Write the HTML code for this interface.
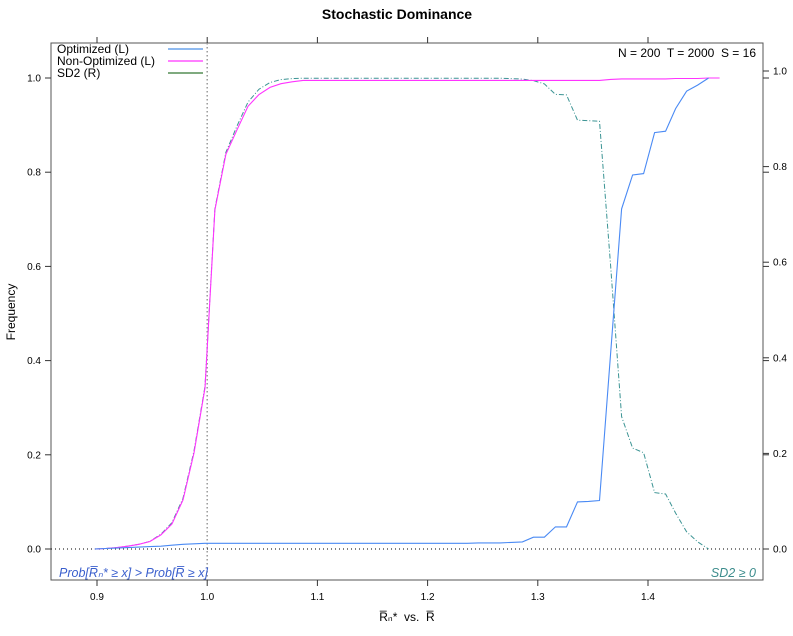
<!DOCTYPE html>
<html><head><meta charset="utf-8"><style>
body{margin:0;background:#fff;}
svg{display:block;font-family:"Liberation Sans",sans-serif;}
text{white-space:pre;}
</style></head><body>
<svg id="c" width="793" height="636"></svg>
<script>
const xs=[0.898,0.908,0.918,0.928,0.938,0.948,0.958,0.968,0.978,0.988,0.998,1.007,1.017,1.027,1.037,1.047,1.057,1.067,1.077,1.087,1.097,1.107,1.117,1.127,1.137,1.147,1.157,1.167,1.177,1.187,1.197,1.207,1.216,1.226,1.236,1.246,1.256,1.266,1.276,1.286,1.296,1.306,1.316,1.326,1.336,1.346,1.356,1.366,1.376,1.386,1.396,1.406,1.416,1.425,1.435,1.445,1.455,1.465];
const optimized=[0,0.001,0.002,0.003,0.004,0.005,0.006,0.008,0.010,0.011,0.012,0.012,0.012,0.012,0.012,0.012,0.012,0.012,0.012,0.012,0.012,0.012,0.012,0.012,0.012,0.012,0.012,0.012,0.012,0.012,0.012,0.012,0.012,0.012,0.012,0.013,0.013,0.013,0.014,0.015,0.025,0.025,0.047,0.047,0.100,0.101,0.103,0.412,0.722,0.794,0.797,0.884,0.887,0.935,0.972,0.985,1.0,null];
const nonOptimized=[0,0.001,0.003,0.006,0.010,0.016,0.030,0.053,0.104,0.204,0.342,0.720,0.838,0.890,0.940,0.965,0.980,0.988,0.992,0.995,0.995,0.995,0.995,0.995,0.995,0.995,0.995,0.995,0.995,0.995,0.995,0.995,0.995,0.995,0.995,0.995,0.995,0.995,0.995,0.995,0.995,0.995,0.995,0.995,0.995,0.995,0.995,0.997,0.998,0.998,0.998,0.998,0.998,0.999,0.999,0.999,1.0,1.0];
const sd2=[0,0.001,0.003,0.006,0.010,0.016,0.031,0.055,0.106,0.205,0.340,0.712,0.830,0.885,0.935,0.962,0.976,0.982,0.984,0.985,0.985,0.985,0.985,0.985,0.985,0.985,0.985,0.985,0.985,0.985,0.985,0.985,0.985,0.985,0.985,0.985,0.985,0.985,0.984,0.983,0.980,0.973,0.951,0.950,0.897,0.896,0.895,0.596,0.277,0.211,0.2015,0.118,0.115,0.075,0.036,0.015,0,null];
const xTicks=[0.9,1.0,1.1,1.2,1.3,1.4];
const yTicks=[0,0.2,0.4,0.6,0.8,1.0];
const NS="http://www.w3.org/2000/svg";
const svg=document.getElementById('c');
const L=51,R=763,T=43,B=580;
const X=v=>97+(v-0.9)*1102;
const Y=v=>549-v*471;
const Y2=v=>549-v*478;
function el(t,a,p){const e=document.createElementNS(NS,t);for(const k in a)e.setAttribute(k,a[k]);(p||svg).appendChild(e);return e;}
function txt(s,a){const e=el('text',a);e.textContent=s;return e;}
let t;
t=txt('Stochastic Dominance',{x:397,y:19,'text-anchor':'middle','font-size':14,'font-weight':'bold'});

t=el('rect',{x:L,y:T,width:R-L,height:B-T,fill:'none',stroke:'#555','stroke-width':1});

xTicks.forEach(v=>{
  t=el('line',{x1:X(v),x2:X(v),y1:B,y2:B+6,stroke:'#333'});
  
  t=el('line',{x1:X(v),x2:X(v),y1:T,y2:T-6,stroke:'#333'});
  
  t=txt(v.toFixed(1),{x:X(v),y:B+20,'text-anchor':'middle','font-size':10});
  
});
yTicks.forEach(v=>{
  t=el('line',{x1:L,x2:L-6,y1:Y(v),y2:Y(v),stroke:'#333'});
  
  t=txt(v.toFixed(1),{x:L-10,y:Y(v)+3.5,'text-anchor':'end','font-size':10});
  
  t=el('line',{x1:R,x2:R+6,y1:Y(v),y2:Y(v),stroke:'#333'});
  
  t=el('line',{x1:R,x2:R+6,y1:Y2(v),y2:Y2(v),stroke:'#333'});
  
  t=txt(v.toFixed(1),{x:R+10,y:Y2(v)+3.5,'font-size':10});
  
});
t=el('line',{x1:X(1.0),x2:X(1.0),y1:T,y2:B,stroke:'#999','stroke-dasharray':'1.5,2.5','stroke-width':1.5});

t=el('line',{x1:L,x2:R,y1:Y(0),y2:Y(0),stroke:'#333','stroke-dasharray':'1,3','stroke-width':1.2});

function path(vals,yf){let d='';let pen=false;vals.forEach((v,i)=>{if(v===null){pen=false;return;}d+=(pen?'L':'M')+X(xs[i]).toFixed(1)+','+yf(v).toFixed(1);pen=true;});return d;}
t=el('path',{d:path(sd2,Y2),fill:'none',stroke:'#3c9494','stroke-width':1,'stroke-dasharray':'5,2,1,2'});

t=el('path',{d:path(nonOptimized,Y),fill:'none',stroke:'#ff33ff','stroke-width':1.1});

t=el('path',{d:path(optimized,Y),fill:'none',stroke:'#4a8af4','stroke-width':1.1});

const leg=[['Optimized (L)','#8fbaf0'],['Non-Optimized (L)','#ff33ff'],['SD2 (R)','#7faa7f']];
leg.forEach((g,i)=>{
  const y=T+6+i*12;
  t=txt(g[0],{x:57,y:y+4,'font-size':12});
  
  t=el('line',{x1:168,x2:203,y1:y,y2:y,stroke:g[1],'stroke-width':i==1?1.2:2});
  
});
t=txt('N = 200  T = 2000  S = 16',{x:756,y:57,'text-anchor':'end','font-size':12});

t=txt('Prob[R̅ₙ* ≥ x] > Prob[R̅ ≥ x]',{x:59,y:577,'font-size':12.5,fill:'#3a5fcd','font-style':'italic'});

t=txt('SD2 ≥ 0',{x:756,y:577,'text-anchor':'end','font-size':12.5,fill:'#3c8c8c','font-style':'italic'});

t=txt('R̅ₙ*  vs.  R̅',{x:407,y:621,'text-anchor':'middle','font-size':12});

t=txt('Frequency',{x:15,y:312,'text-anchor':'middle','font-size':12,transform:'rotate(-90 15 312)'});

</script>
</body></html>
